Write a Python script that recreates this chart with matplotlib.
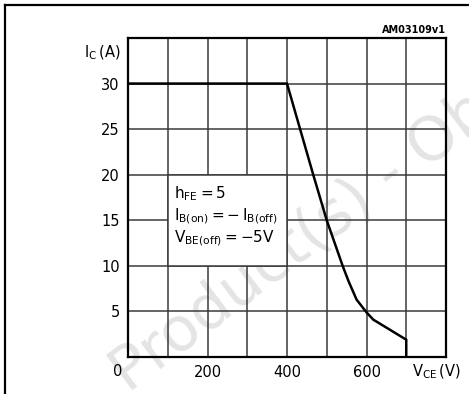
import matplotlib.pyplot as plt
from matplotlib.patches import Rectangle
from matplotlib.lines import Line2D
import matplotlib.transforms as mtransforms

# Safe operating area at turn-off (reverse bias SOA)
vce = [0, 400, 433, 466, 500, 540, 555, 575, 600, 617, 700, 700]
ic = [30, 30, 25, 20, 15, 10, 8.3, 6.3, 4.9, 4.1, 1.9, 0]

x_ticks = [200, 400, 600]
y_ticks = [5, 10, 15, 20, 25, 30]

W, H = 469, 394
fig = plt.figure(figsize=(W / 100, H / 100), dpi=100)
fig.patch.set_facecolor('white')

# frame of the figure: top and left edges only
fig.add_artist(Line2D([5 / W, 5 / W], [0, 1 - 5 / H], color='black', lw=1.6,
                      transform=fig.transFigure))
fig.add_artist(Line2D([5 / W, 1], [1 - 5 / H, 1 - 5 / H], color='black', lw=1.6,
                      transform=fig.transFigure))

# watermark behind the plot
fig.text(128 / W, 1 - 394 / H, 'Product(s) - Obsolete', fontsize=44,
         color='#e4e4e4', rotation=37, rotation_mode='anchor',
         ha='left', va='baseline', zorder=-5, family='DejaVu Sans')

ax = fig.add_axes([128 / W, 37 / H, 318 / W, 319 / H])
ax.set_facecolor('none')
ax.set_xlim(0, 800)
ax.set_ylim(0, 35)

# grid
for x in range(100, 800, 100):
    ax.axvline(x, color='#3a3a3a', lw=1.1, zorder=1)
for y in range(5, 35, 5):
    ax.axhline(y, color='#3a3a3a', lw=1.1, zorder=1)

# conditions box
ax.add_patch(Rectangle((100, 10), 300, 10, facecolor='white', edgecolor='#3a3a3a',
                       lw=1.1, zorder=2))
cond = [r'$\mathregular{h_{FE}=5}$',
        r'$\mathregular{I_{B(on)}=-\,I_{B(off)}}$',
        r'$\mathregular{V_{BE(off)}=-5V}$']
for i, s in enumerate(cond):
    ax.text(116, 17.9 - i * 2.45, s, fontsize=11, ha='left', va='center', zorder=3)

ax.plot(vce, ic, color='black', lw=1.8, zorder=4, solid_joinstyle='miter')

for sp in ax.spines.values():
    sp.set_linewidth(1.6)
    sp.set_zorder(5)

ax.set_xticks(x_ticks)
ax.set_yticks(y_ticks)
ax.tick_params(length=0, labelsize=10.5, pad=6)
ax.tick_params(axis='y', pad=6)

tr = mtransforms.blended_transform_factory(ax.transData, ax.transAxes)
ax.text(-25, -0.047, '0', transform=tr, ha='center', va='center', fontsize=10.5)
fig.text(412 / W, 1 - 372 / H, r'$\mathregular{V_{CE}\,(V)}$',
         ha='left', va='center', fontsize=10.5)
fig.text(121 / W, 1 - 53 / H, r'$\mathregular{I_C\,(A)}$',
         ha='right', va='center', fontsize=10.5)
fig.text(446 / W, 1 - 30 / H, 'AM03109v1', ha='right', va='center',
         fontsize=7, fontweight='bold')

fig.savefig('out.png', dpi=100)
